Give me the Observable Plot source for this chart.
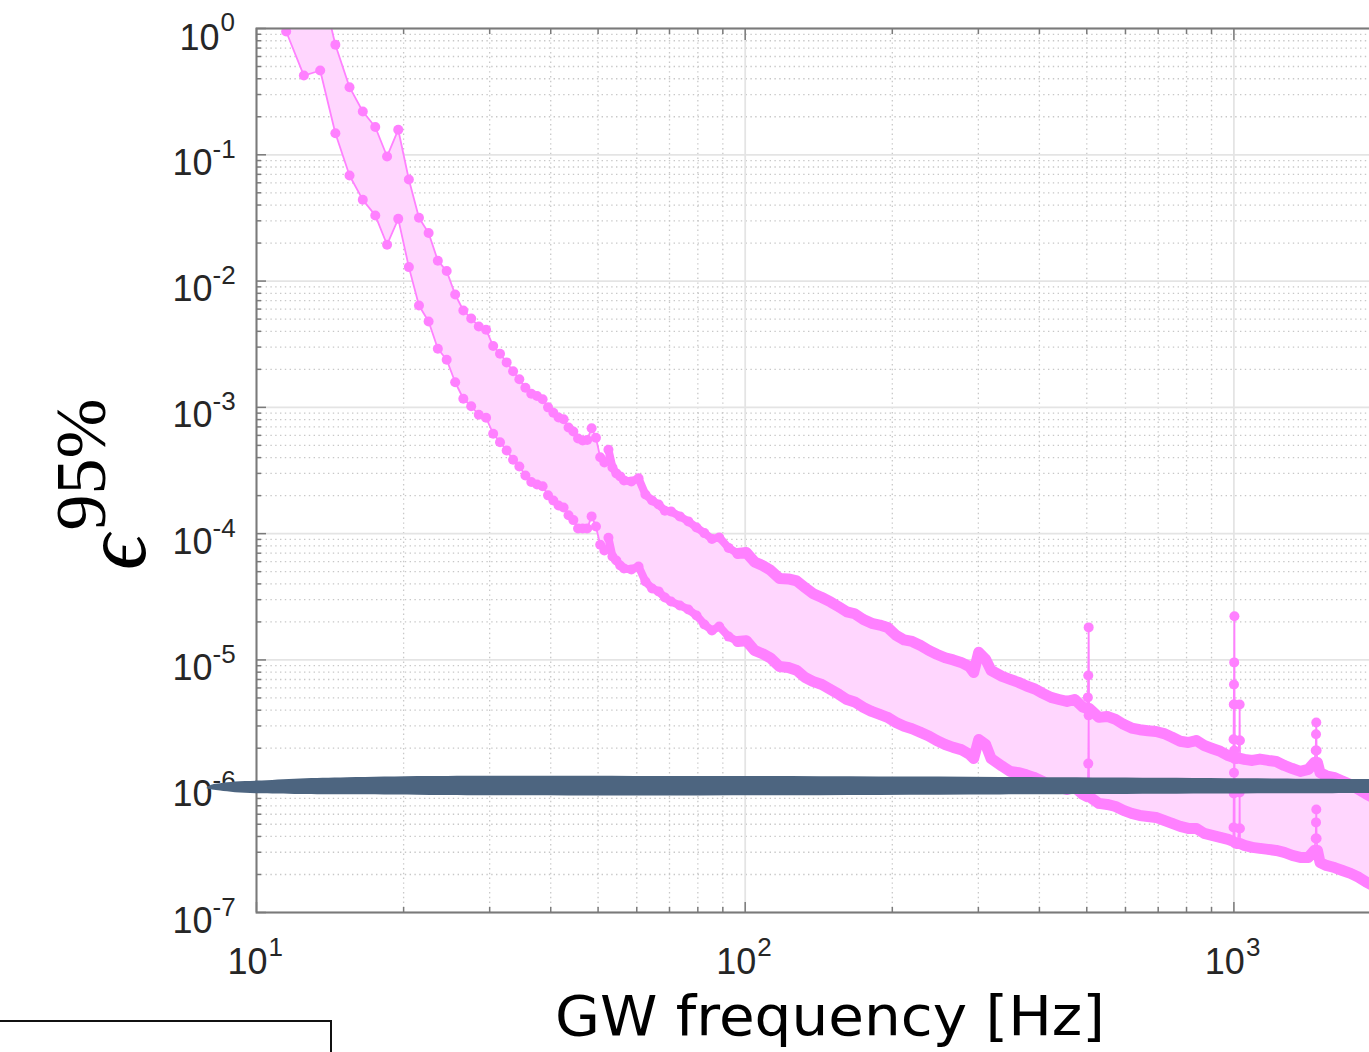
<!DOCTYPE html>
<html><head><meta charset="utf-8">
<script src="https://cdn.jsdelivr.net/npm/d3@7"></script>
<script src="https://cdn.jsdelivr.net/npm/@observablehq/plot@0.6"></script>
<style>
html,body{margin:0;padding:0;background:#fff;overflow:hidden;}
#chart{position:relative;width:1400px;height:1052px;overflow:hidden;}
</style></head><body><div id="chart"></div>
<script>
// ---- data ----
const freq = [
  11.5,12.5,13.5,14.5,15.5,16.5,17.5,18.5,19.5,20.5,
  21.5,22.5,23.5,24.5,25.5,26.5,27.5,28.5,29.5,30.5,
  31.5,32.5,33.5,34.5,35.5,36.5,37.5,38.5,39.5,40.5,
  41.5,42.5,43.5,44.5,45.5,46.5,47.5,48.5,49.5,50.5,
  51.5,52.5,53.5,54.5,55.5,56.5,
  58.5,60.5,62.5,64.5,66.5,68.5,70.5,
  73.5,76.5,79.5,82.5,85.5,88.5,
  92.5,96.5,100.5,104.5,108.5,112.5,
  117.5,122.5,127.5,132.5,137.5,
  143.5,149.5,155.5,161.5,167.5,
  174.5,181.5,188.5,195.5,
  203.5,211.5,219.5,228.5,237.5,246.5,256.5,266.5,276.5,287.5,293.5,
  300.5,310.5,318.5,335.5,348.5,362.5,376.5,391.5,406.5,422.5,438.5,455.5,472.5,490.5,
  500.5,502.5,503.5,504.5,505.5,
  529.5,550.5,572.5,594.5,617.5,641.5,666.5,692.5,719.5,747.5,776.5,806.5,837.5,869.5,902.5,937.5,973.5,
  997.5,998.5,999.5,1000.5,1001.5,1002.5,1003.5,
  1015.5,1026.5,1027.5,1028.5,1029.5,
  1050.5,1090.5,1130.5,1175.5,1220.5,1267.5,1316.5,1367.5,1420.5,1460.5,
  1470.5,1472.5,1474.5,1476.5,1482.5,
  1500.5,1545.5,1605.5,1667.5,1732.5,1800.5,1870.5,1942.5,2000
];
const upper = [
  4.7,2.1,2.4,0.743,0.343,0.220,0.166,0.0969,0.158,0.0637,
  0.0317,0.0240,0.0145,0.0120,0.00783,0.00585,0.00506,0.00437,0.00412,0.00306,
  0.00266,0.00227,0.00193,0.00167,0.00143,0.00128,0.00123,0.00116,0.00100,9.06e-4,
  8.32e-4,8.06e-4,6.93e-4,6.44e-4,5.67e-4,5.47e-4,5.52e-4,6.84e-4,5.75e-4,4.03e-4,
  3.66e-4,4.62e-4,3.34e-4,3.00e-4,2.84e-4,2.64e-4,
  2.59e-4,2.74e-4,2.04e-4,1.83e-4,1.70e-4,1.52e-4,1.50e-4,
  1.37e-4,1.25e-4,1.12e-4,1.01e-4,9.08e-5,9.33e-5,
  7.71e-5,6.97e-5,7.09e-5,5.97e-5,5.60e-5,5.16e-5,
  4.42e-5,4.38e-5,4.22e-5,3.75e-5,3.36e-5,
  3.12e-5,2.88e-5,2.63e-5,2.40e-5,2.32e-5,
  2.09e-5,1.95e-5,1.89e-5,1.81e-5,
  1.57e-5,1.44e-5,1.40e-5,1.30e-5,1.19e-5,1.11e-5,1.04e-5,1.00e-5,9.56e-6,8.88e-6,7.96e-6,
  1.15e-5,1.01e-5,8.26e-6,7.40e-6,7.01e-6,6.64e-6,6.22e-6,5.89e-6,5.43e-6,5.05e-6,4.86e-6,4.69e-6,4.86e-6,4.24e-6,
  4.13e-6,5.05e-6,7.54e-6,1.81e-5,4.13e-6,
  3.51e-6,3.57e-6,3.38e-6,3.09e-6,2.89e-6,2.80e-6,2.75e-6,2.71e-6,2.61e-6,2.44e-6,2.27e-6,2.22e-6,2.30e-6,2.10e-6,1.99e-6,1.89e-6,1.75e-6,
  1.69e-6,2.35e-6,4.44e-6,6.39e-6,9.56e-6,2.22e-5,1.66e-6,
  1.66e-6,2.30e-6,4.44e-6,2.30e-6,1.66e-6,
  1.63e-6,1.60e-6,1.64e-6,1.60e-6,1.57e-6,1.46e-6,1.38e-6,1.31e-6,1.36e-6,1.54e-6,
  1.92e-6,2.58e-6,3.20e-6,1.92e-6,1.54e-6,
  1.28e-6,1.21e-6,1.17e-6,1.10e-6,1.03e-6,9.43e-7,8.62e-7,8.00e-7,7.58e-7
];
const lower = [
  0.947,0.424,0.465,0.148,0.0685,0.0440,0.0331,0.0194,0.0311,0.0129,
  0.00641,0.00479,0.00291,0.00238,0.00158,0.00117,0.00102,8.74e-4,8.27e-4,6.18e-4,
  5.30e-4,4.56e-4,3.85e-4,3.40e-4,2.89e-4,2.56e-4,2.45e-4,2.37e-4,2.01e-4,1.83e-4,
  1.67e-4,1.61e-4,1.40e-4,1.28e-4,1.10e-4,1.10e-4,1.10e-4,1.37e-4,1.14e-4,8.17e-5,
  7.36e-5,9.28e-5,6.60e-5,6.13e-5,5.60e-5,5.30e-5,
  5.20e-5,5.50e-5,4.18e-5,3.68e-5,3.49e-5,3.12e-5,2.90e-5,
  2.70e-5,2.51e-5,2.25e-5,1.91e-5,1.71e-5,1.84e-5,
  1.53e-5,1.40e-5,1.42e-5,1.19e-5,1.12e-5,1.04e-5,
  8.88e-6,8.72e-6,8.26e-6,7.28e-6,6.76e-6,
  6.39e-6,5.84e-6,5.34e-6,4.86e-6,4.65e-6,
  4.21e-6,3.91e-6,3.70e-6,3.51e-6,
  3.20e-6,2.98e-6,2.85e-6,2.67e-6,2.50e-6,2.30e-6,2.14e-6,2.03e-6,1.95e-6,1.79e-6,1.66e-6,
  2.34e-6,2.14e-6,1.66e-6,1.44e-6,1.31e-6,1.28e-6,1.23e-6,1.17e-6,1.09e-6,1.01e-6,9.78e-7,9.43e-7,9.78e-7,8.62e-7,
  8.30e-7,1.01e-6,1.51e-6,3.64e-6,8.30e-7,
  7.31e-7,7.17e-7,6.91e-7,6.43e-7,6.09e-7,5.87e-7,5.76e-7,5.66e-7,5.36e-7,5.08e-7,4.81e-7,4.63e-7,4.63e-7,4.23e-7,4.08e-7,3.93e-7,3.79e-7,
  3.65e-7,4.72e-7,8.77e-7,1.28e-6,1.92e-6,4.44e-6,3.58e-7,
  3.52e-7,4.63e-7,8.93e-7,4.63e-7,3.52e-7,
  3.40e-7,3.28e-7,3.22e-7,3.16e-7,3.10e-7,2.99e-7,2.83e-7,2.73e-7,2.73e-7,3.10e-7,
  3.86e-7,5.17e-7,6.55e-7,3.86e-7,3.10e-7,
  2.49e-7,2.36e-7,2.27e-7,2.15e-7,2.04e-7,1.90e-7,1.73e-7,1.61e-7,1.53e-7
];
// frequencies of the narrow spectral-line spikes (drawn with thin lines only)
const spikeFreq = [502.5, 503.5, 504.5, 998.5, 999.5, 1000.5, 1001.5, 1002.5, 1026.5, 1027.5, 1028.5, 1470.5, 1472.5, 1474.5, 1476.5];
// hand-drawn highlight band around 1e-6
const bandFreq   = [7.93, 8.13, 8.44, 9.06, 10.05, 12.31, 15.36, 22.71, 81.1, 333.4, 1898, 2000];
const bandTop    = [9.78e-7, 1.024e-6, 1.047e-6, 1.082e-6, 1.098e-6, 1.142e-6, 1.168e-6, 1.196e-6, 1.196e-6, 1.174e-6, 1.132e-6, 1.132e-6];
const bandBottom = [9.52e-7, 9.35e-7, 9.15e-7, 8.88e-7, 8.72e-7, 8.61e-7, 8.56e-7, 8.46e-7, 8.38e-7, 8.53e-7, 8.77e-7, 8.77e-7];
// axes
const yTicks = [1, 1e-1, 1e-2, 1e-3, 1e-4, 1e-5, 1e-6, 1e-7];
const yTickExp = ["0", "-1", "-2", "-3", "-4", "-5", "-6", "-7"];
const xTicks = [10, 100, 1000];
const xTickExp = ["1", "2", "3"];
const xDomain = [10, 2000];
const yDomain = [1e-7, 1];
const xTitle = "GW frequency [Hz]";
const yTitleBase = "\u03F5";
const yTitleSup = "95%";

// ---- build ----
const spikeSet = new Set(spikeFreq);
const rows = freq.map((f, i) => ({f, up: upper[i], lo: lower[i], spike: spikeSet.has(f)}));
const ridgeMid = rows.filter(d => d.f >= 52 && d.f < 100);
const ridgeHigh = rows.filter(d => d.f >= 96);
const band = bandFreq.map((f, i) => ({f, top: bandTop[i], bot: bandBottom[i]}));
const yTickData = yTicks.map((v, i) => ({v, exp: yTickExp[i]}));
const xTickData = xTicks.map((v, i) => ({v, exp: xTickExp[i]}));
const yMinor = [];
for (let e = -7; e < 0; e++) for (let m = 2; m <= 9; m++) yMinor.push(m * Math.pow(10, e));
const xMinor = [];
for (let e = 1; e <= 3; e++) for (let m = 2; m <= 9; m++) { const v = m * Math.pow(10, e); if (v <= xDomain[1]) xMinor.push(v); }

const W = 1400, H = 1052;
const frameLeft = 256, frameTop = 28, frameBottom = 912, frameRight = 1380.5;
const plotW = frameRight - frameLeft, plotH = frameBottom - frameTop;
const pink = "#ff80ff", pinkFill = "#ffd6fe", gridMajor = "#e4e4e4", gridMinor = "#c8c8c8";
const axisCol = "#7a7a7a", textCol = "#262626", bandCol = "#4d6580";
const tickFont = "Liberation Sans, Arial, Helvetica, sans-serif";
const ridge = (data, key, w) => Plot.line(data, {x: "f", y: d => d.spike ? NaN : d[key], stroke: pink, strokeWidth: w, strokeLinejoin: "round", strokeLinecap: "round", clip: true});

const chart = Plot.plot({
  width: W, height: H,
  marginLeft: frameLeft, marginRight: W - frameRight, marginTop: frameTop, marginBottom: H - frameBottom,
  x: {type: "log", domain: xDomain, axis: null},
  y: {type: "log", domain: yDomain, axis: null},
  style: {background: "transparent", maxWidth: "none", overflow: "visible"},
  marks: [
    Plot.ruleX(xMinor, {x: d => d, stroke: gridMinor, strokeWidth: 1.3, strokeDasharray: "1.4,3.4"}),
    Plot.ruleY(yMinor, {y: d => d, stroke: gridMinor, strokeWidth: 1.3, strokeDasharray: "1.4,3.4"}),
    Plot.ruleX(xTicks, {x: d => d, stroke: gridMajor, strokeWidth: 1.8}),
    Plot.ruleY(yTicks, {y: d => d, stroke: gridMajor, strokeWidth: 1.8}),
    Plot.areaY(rows, {x: "f", y1: "lo", y2: "up", fill: pinkFill, clip: true}),
    Plot.line(rows, {x: "f", y: "up", stroke: pink, strokeWidth: 1.8, clip: true}),
    Plot.line(rows, {x: "f", y: "lo", stroke: pink, strokeWidth: 1.8, clip: true}),
    // dense markers merge into a thick ridge at higher frequencies
    ridge(ridgeMid, "up", 8), ridge(ridgeMid, "lo", 8),
    ridge(ridgeHigh, "up", 11), ridge(ridgeHigh, "lo", 11),
    Plot.dot(rows, {x: "f", y: "up", r: 5, fill: pink, clip: true}),
    Plot.dot(rows, {x: "f", y: "lo", r: 5, fill: pink, clip: true}),
    // inward ticks
    Plot.tickY(yTicks, {y: d => d, stroke: axisCol, strokeWidth: 1.5, insetRight: plotW - 10}),
    Plot.tickY(yMinor, {y: d => d, stroke: axisCol, strokeWidth: 1.5, insetRight: plotW - 5}),
    Plot.tickX(xTicks, {x: d => d, stroke: axisCol, strokeWidth: 1.5, insetTop: plotH - 10}),
    Plot.tickX(xMinor, {x: d => d, stroke: axisCol, strokeWidth: 1.5, insetTop: plotH - 5}),
    Plot.tickX(xTicks, {x: d => d, stroke: axisCol, strokeWidth: 1.5, insetBottom: plotH - 12}),
    Plot.tickX(xMinor, {x: d => d, stroke: axisCol, strokeWidth: 1.5, insetBottom: plotH - 6}),
    Plot.frame({stroke: axisCol, strokeWidth: 2}),
    // y tick labels 10^n
    Plot.text(yTickData.filter(d => d.exp.length === 1), {y: "v", text: () => "10", frameAnchor: "left", textAnchor: "end", lineAnchor: "bottom", dx: -37, dy: 21, fontSize: 36, fontFamily: tickFont, fill: textCol}),
    Plot.text(yTickData.filter(d => d.exp.length === 1), {y: "v", text: "exp", frameAnchor: "left", textAnchor: "start", lineAnchor: "bottom", dx: -36, dy: 2, fontSize: 26, fontFamily: tickFont, fill: textCol}),
    Plot.text(yTickData.filter(d => d.exp.length > 1), {y: "v", text: () => "10", frameAnchor: "left", textAnchor: "end", lineAnchor: "bottom", dx: -44, dy: 20, fontSize: 36, fontFamily: tickFont, fill: textCol}),
    Plot.text(yTickData.filter(d => d.exp.length > 1), {y: "v", text: "exp", frameAnchor: "left", textAnchor: "start", lineAnchor: "bottom", dx: -44, dy: 3, fontSize: 26, fontFamily: tickFont, fill: textCol}),
    // x tick labels
    Plot.text(xTickData, {x: "v", text: () => "10", frameAnchor: "bottom", textAnchor: "end", lineAnchor: "bottom", dx: 11, dy: 61, fontSize: 36, fontFamily: tickFont, fill: textCol}),
    Plot.text(xTickData, {x: "v", text: "exp", frameAnchor: "bottom", textAnchor: "start", lineAnchor: "bottom", dx: 12, dy: 43, fontSize: 26, fontFamily: tickFont, fill: textCol}),
    // highlight band
    Plot.areaY(band, {x: "f", y1: "bot", y2: "top", fill: bandCol, curve: "catmull-rom"})
  ]
});
document.getElementById("chart").appendChild(chart);

// axis titles
const svg = d3.select(chart);
svg.append("text")
  .attr("x", 830).attr("y", 1035)
  .attr("text-anchor", "middle")
  .attr("font-family", "DejaVu Sans, Verdana, sans-serif")
  .attr("font-size", 55)
  .attr("textLength", 550)
  .attr("lengthAdjust", "spacingAndGlyphs")
  .attr("fill", "#000")
  .text(xTitle);
const yt = svg.append("text")
  .attr("transform", "translate(145,570) rotate(-90)")
  .attr("text-anchor", "start")
  .attr("font-family", "'Liberation Serif', 'DejaVu Serif', serif")
  .attr("fill", "#000");
yt.append("tspan").attr("font-size", 88).attr("font-style", "italic").text(yTitleBase);
yt.append("tspan").attr("font-size", 72).attr("dy", -40).attr("dx", 4).text(yTitleSup);
// partially visible box at the lower left
svg.append("rect").attr("x", -5).attr("y", 1021).attr("width", 336).attr("height", 80)
  .attr("fill", "none").attr("stroke", "#111").attr("stroke-width", 2);
</script></body></html>
